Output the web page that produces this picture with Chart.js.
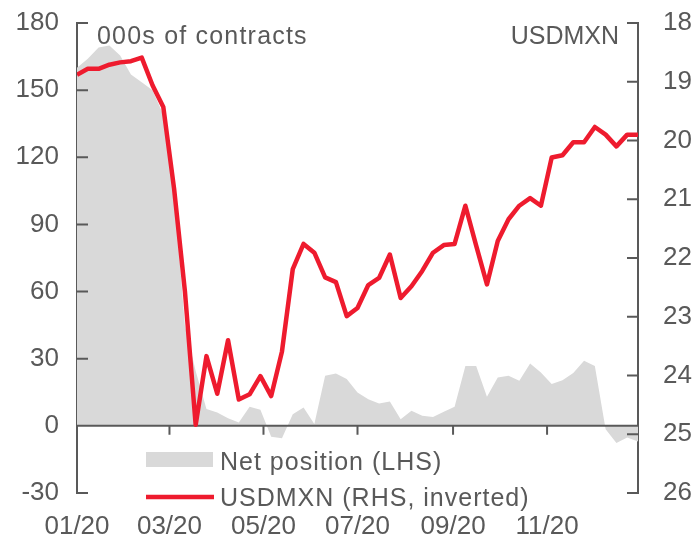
<!DOCTYPE html>
<html>
<head>
<meta charset="utf-8">
<script src="https://cdn.jsdelivr.net/npm/chart.js@4.4.1/dist/chart.umd.min.js"></script>
<style>
    html, body { margin: 0; padding: 0; background: #fff; }
    #wrap { width: 697px; height: 537px; position: relative; }
</style>
</head>
<body>
<div id="wrap"><canvas id="mxnChart" width="697" height="537"></canvas></div>
<script>
// ข้อมูลรายสัปดาห์ ปี 2020
const weekDates = [
    '2020-01-01', '2020-01-08', '2020-01-15', '2020-01-22', '2020-01-29',
    '2020-02-05', '2020-02-12', '2020-02-19', '2020-02-26',
    '2020-03-04', '2020-03-11', '2020-03-18', '2020-03-25',
    '2020-04-01', '2020-04-08', '2020-04-15', '2020-04-22', '2020-04-29',
    '2020-05-06', '2020-05-13', '2020-05-20', '2020-05-27',
    '2020-06-03', '2020-06-10', '2020-06-17', '2020-06-24',
    '2020-07-01', '2020-07-08', '2020-07-15', '2020-07-22', '2020-07-29',
    '2020-08-05', '2020-08-12', '2020-08-19', '2020-08-26',
    '2020-09-02', '2020-09-09', '2020-09-16', '2020-09-23', '2020-09-30',
    '2020-10-07', '2020-10-14', '2020-10-21', '2020-10-28',
    '2020-11-04', '2020-11-11', '2020-11-18', '2020-11-25',
    '2020-12-02', '2020-12-09', '2020-12-16', '2020-12-23', '2020-12-30'
];

// Net position (000s of contracts, LHS)
const netPosition = [
    160, 164, 169, 170, 165.5,
    157, 153.5, 150, 139,
    105, 45, 24.5, 7.5,
    6, 3.4, 1.5, 8.5, 7.2,
    -4.9, -5.5, 5.2, 8.2,
    0.8, 22.4, 23.4, 20.9,
    14.9, 11.9, 10, 10.9, 3,
    6.7, 4.5, 4, 6.3,
    8.5, 26.8, 26.8, 13, 21.6,
    22.4, 20.1, 27.9, 23.8,
    18.7, 20.4, 23.6, 29.1,
    26.8, -1.5, -7.7, -5.2, -7.0
];

// USDMXN (RHS, inverted)
const usdmxn = [
    18.88, 18.78, 18.78, 18.71, 18.67,
    18.65, 18.59, 19.06, 19.43,
    20.82, 22.56, 24.84, 23.67,
    24.31, 23.40, 24.41, 24.32, 24.01,
    24.35, 23.59, 22.19, 21.76,
    21.91, 22.33, 22.41, 22.99,
    22.85, 22.46, 22.34, 21.94, 22.68,
    22.48, 22.22, 21.91, 21.78,
    21.76, 21.11, 21.79, 22.45, 21.71,
    21.34, 21.11, 20.98, 21.11,
    20.29, 20.25, 20.03, 20.03,
    19.77, 19.90, 20.10, 19.90, 19.90
];

const tickDates = ['2020-01-01', '2020-03-01', '2020-05-01', '2020-07-01', '2020-09-01', '2020-11-01'];
const tickLabels = ['01/20', '03/20', '05/20', '07/20', '09/20', '11/20'];

const AXIS_COLOR = '#595959';
const RED = '#EE1B2E';
const GREY = '#D9D9D9';
const FONT = 'Liberation Sans, Arial, sans-serif';

// แปลงวันที่เป็นจำนวนวันนับจาก 1 ม.ค. 2020
function dayOf(str) {
    const p = str.split('-').map(Number);
    return (Date.UTC(p[0], p[1] - 1, p[2]) - Date.UTC(2020, 0, 1)) / 86400000;
}

const weekDays = weekDates.map(dayOf);
const tickDays = tickDates.map(dayOf);

// ไม่ให้ป้ายกำกับแกนดันขอบพื้นที่กราฟ
function fixSize(prop, size) {
    return scale => {
        scale[prop] = size;
        scale.paddingTop = 0;
        scale.paddingBottom = 0;
        scale.paddingLeft = 0;
        scale.paddingRight = 0;
    };
}

// เส้นแกนและขีด tick ชี้เข้าด้านใน
const axisDecor = {
    id: 'axisDecor',
    afterDatasetDraw(chart, args) {
        if (args.index !== 1) return;
        const ctx = chart.ctx;
        const x = chart.scales.x, yl = chart.scales.yLeft, yr = chart.scales.yRight;
        const area = chart.chartArea;
        ctx.save();
        ctx.strokeStyle = AXIS_COLOR;
        ctx.lineWidth = 2;
        const zero = yl.getPixelForValue(0);
        ctx.beginPath();
        ctx.moveTo(area.left, zero);
        ctx.lineTo(area.right, zero);
        tickDays.forEach(d => {
            const px = x.getPixelForValue(d);
            ctx.moveTo(px, zero);
            ctx.lineTo(px, zero + 9);
        });
        yl.ticks.forEach(t => {
            const py = yl.getPixelForValue(t.value);
            ctx.moveTo(area.left, py);
            ctx.lineTo(area.left + 11, py);
        });
        yr.ticks.forEach(t => {
            const py = yr.getPixelForValue(t.value);
            ctx.moveTo(area.right, py);
            ctx.lineTo(area.right - 11, py);
        });
        ctx.stroke();
        ctx.restore();
    }
};

// หัวข้อแกนและคำอธิบายสัญลักษณ์
const labelsAndLegend = {
    id: 'labelsAndLegend',
    afterDraw(chart) {
        const ctx = chart.ctx;
        const area = chart.chartArea;
        ctx.save();
        ctx.fillStyle = AXIS_COLOR;
        ctx.font = '25px ' + FONT;
        ctx.textBaseline = 'alphabetic';
        ctx.textAlign = 'left';
        ctx.letterSpacing = '1.2px';
        ctx.fillText('000s of contracts', area.left + 20, 44);
        ctx.letterSpacing = '0px';
        ctx.textAlign = 'right';
        ctx.fillText('USDMXN', area.right - 19, 44);

        const ds = chart.data.datasets;
        ctx.textAlign = 'left';
        ctx.letterSpacing = '1px';
        ctx.fillStyle = GREY;
        ctx.fillRect(146, 452, 67, 15);
        ctx.fillStyle = AXIS_COLOR;
        ctx.fillText(ds[1].label, 220, 470);

        ctx.strokeStyle = RED;
        ctx.lineWidth = 4.5;
        ctx.beginPath();
        ctx.moveTo(146, 497);
        ctx.lineTo(214, 497);
        ctx.stroke();
        ctx.fillText(ds[0].label, 220, 506);
        ctx.restore();
    }
};

const ctx = document.getElementById('mxnChart').getContext('2d');
new Chart(ctx, {
    type: 'line',
    data: {
        datasets: [
            {
                label: 'USDMXN (RHS, inverted)',
                data: weekDays.map((d, i) => ({ x: d, y: usdmxn[i] })),
                yAxisID: 'yRight',
                borderColor: RED,
                borderWidth: 4.5,
                pointRadius: 0,
                tension: 0,
                fill: false,
                borderJoinStyle: 'round',
            },
            {
                label: 'Net position (LHS)',
                data: weekDays.map((d, i) => ({ x: d, y: netPosition[i] })),
                yAxisID: 'yLeft',
                borderWidth: 0,
                borderColor: GREY,
                backgroundColor: GREY,
                pointRadius: 0,
                tension: 0,
                fill: 'origin',
            },
        ],
    },
    options: {
        responsive: false,
        animation: false,
        layout: { padding: { top: 23, left: 0, right: 0, bottom: 0 } },
        plugins: {
            legend: { display: false },
            tooltip: { enabled: false },
        },
        scales: {
            x: {
                type: 'linear',
                min: 0,
                max: weekDays[weekDays.length - 1],
                grid: { display: false, drawTicks: false },
                border: { display: false },
                afterBuildTicks: scale => { scale.ticks = tickDays.map(v => ({ value: v })); },
                afterFit: fixSize('height', 44),
                ticks: {
                    autoSkip: false,
                    maxRotation: 0,
                    padding: 18,
                    color: AXIS_COLOR,
                    font: { family: FONT, size: 26 },
                    callback: value => tickLabels[tickDays.indexOf(value)],
                },
            },
            yLeft: {
                position: 'left',
                min: -30,
                max: 180,
                grid: { display: false, drawTicks: false },
                border: { display: true, color: AXIS_COLOR, width: 2 },
                afterFit: fixSize('width', 77),
                ticks: {
                    stepSize: 30,
                    padding: 18,
                    color: AXIS_COLOR,
                    font: { family: FONT, size: 26 },
                },
            },
            yRight: {
                position: 'right',
                min: 18,
                max: 26,
                reverse: true,
                grid: { display: false, drawTicks: false },
                border: { display: true, color: AXIS_COLOR, width: 2 },
                afterFit: fixSize('width', 59),
                ticks: {
                    stepSize: 1,
                    padding: 25,
                    color: AXIS_COLOR,
                    font: { family: FONT, size: 26 },
                },
            },
        },
    },
    plugins: [axisDecor, labelsAndLegend],
});
</script>
</body>
</html>
